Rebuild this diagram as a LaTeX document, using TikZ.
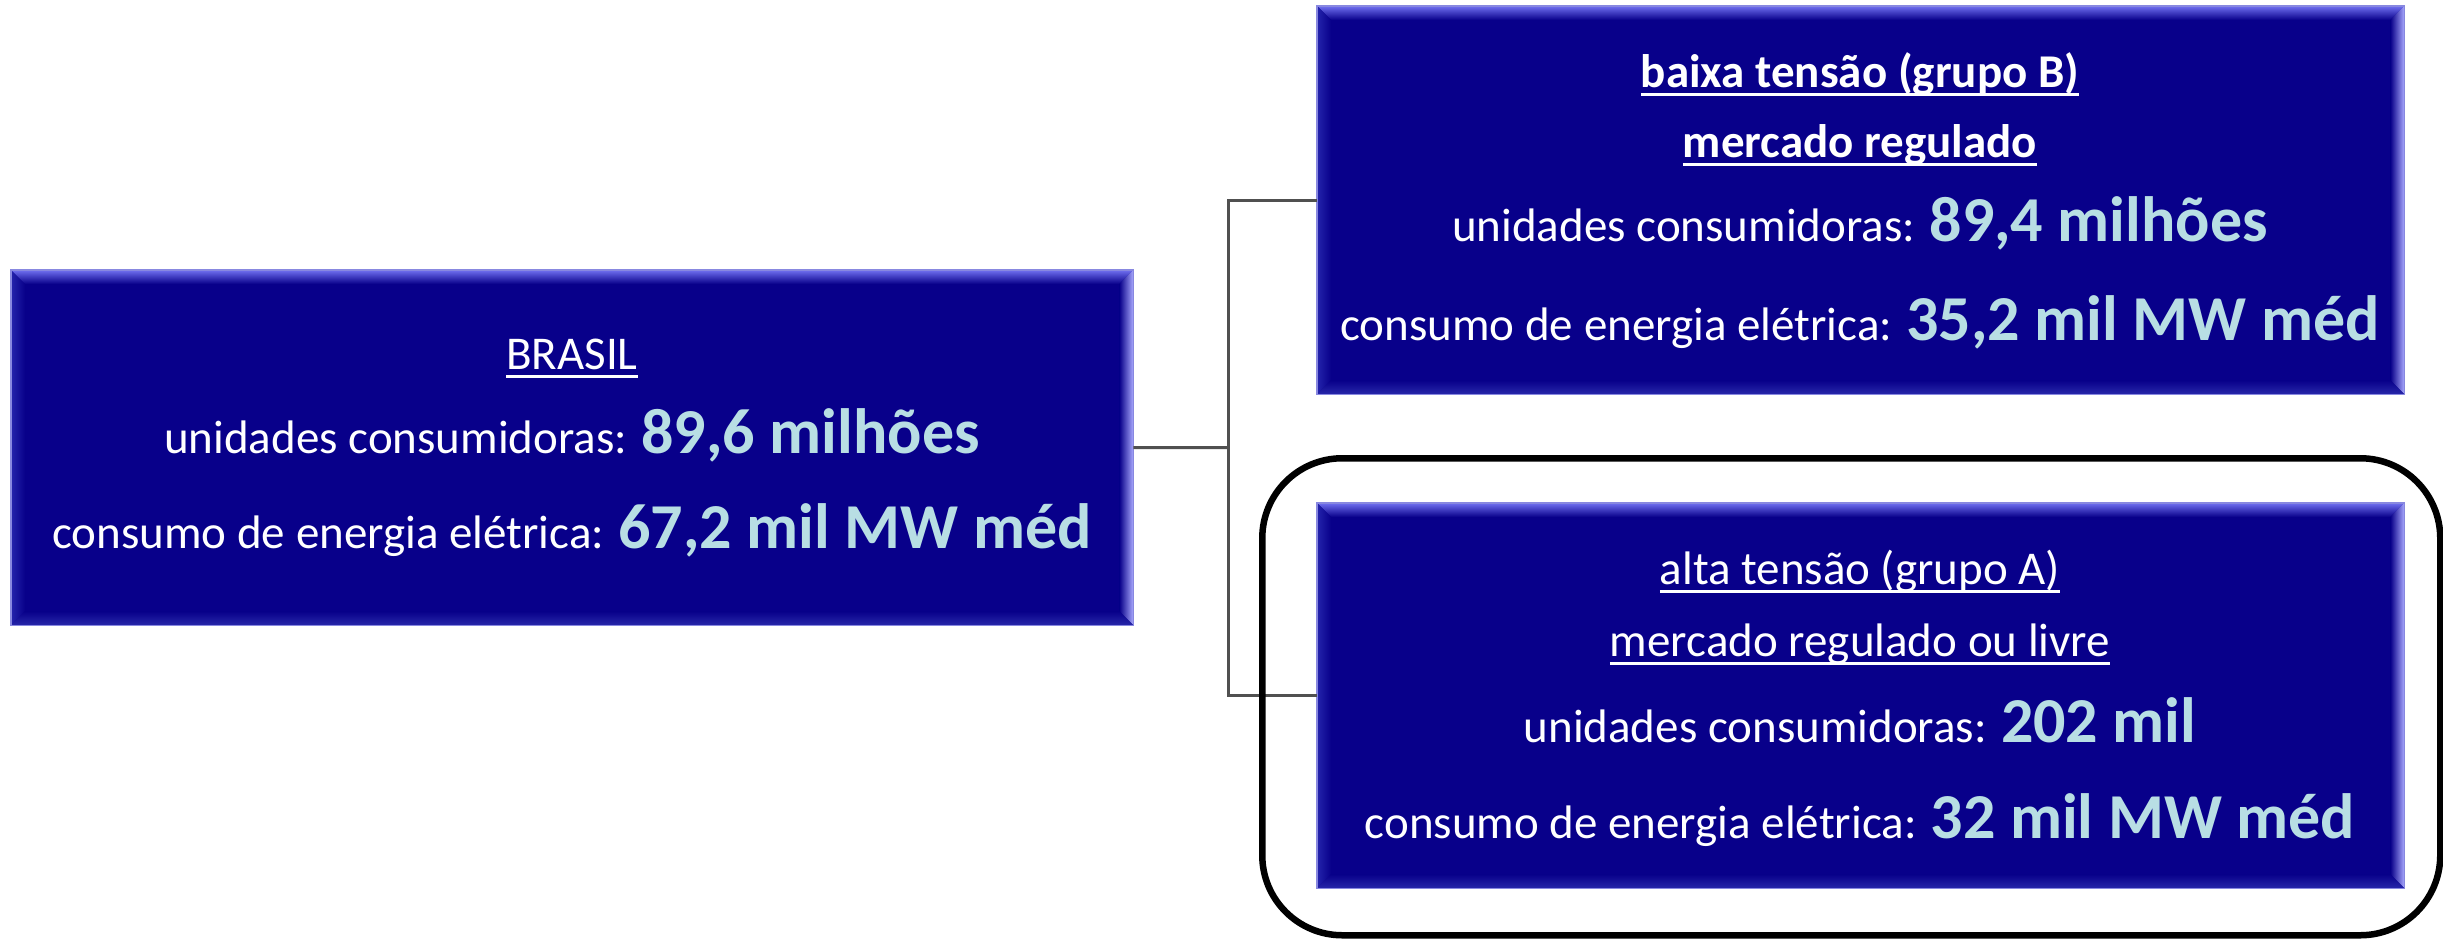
\documentclass[tikz,border=0pt]{standalone}
\usepackage{fontspec}
\setmainfont{Carlito}
\usetikzlibrary{calc}
\definecolor{boxfill}{RGB}{8,0,138}
\definecolor{numcol}{RGB}{184,222,228}
\definecolor{bevtop}{RGB}{112,112,240}
\definecolor{bevright}{RGB}{170,170,255}
\definecolor{bevleft}{RGB}{36,36,172}
\definecolor{bevbot}{RGB}{40,40,170}
\definecolor{edgecol}{RGB}{136,136,224}
\definecolor{linkcol}{RGB}{80,80,80}
\newcommand\bignum[1]{{\fontsize{64}{70}\selectfont\bfseries\color{numcol}#1}}
\newcommand\undl[1]{\setbox0\hbox{#1}\rlap{\rule[-9pt]{\wd0}{3pt}}\box0}
\def\bw{14}
\newcommand\bevelbox[1]{%
 \shade[top color=bevtop, bottom color=boxfill] (#1.north west) -- (#1.north east) -- ($(#1.north east)+(-\bw,\bw)$) -- ($(#1.north west)+(\bw,\bw)$) -- cycle;
 \shade[left color=boxfill, right color=bevright] (#1.north east) -- (#1.south east) -- ($(#1.south east)+(-\bw,-\bw)$) -- ($(#1.north east)+(-\bw,\bw)$) -- cycle;
 \shade[left color=bevleft, right color=boxfill] (#1.north west) -- (#1.south west) -- ($(#1.south west)+(\bw,-\bw)$) -- ($(#1.north west)+(\bw,\bw)$) -- cycle;
 \shade[top color=boxfill, bottom color=bevbot] (#1.south west) -- (#1.south east) -- ($(#1.south east)+(-\bw,-\bw)$) -- ($(#1.south west)+(\bw,-\bw)$) -- cycle;
 \draw[edgecol, line width=1.5pt] (#1.north west) rectangle (#1.south east);
}
\begin{document}
\begin{tikzpicture}[x=1pt,y=-1pt,
  box/.style={rectangle, fill=boxfill, anchor=north west, inner sep=0},
  txt/.style={text=white, font=\fontsize{47}{56}\selectfont, anchor=base, inner sep=0},
  link/.style={draw=linkcol, line width=3pt},
  group/.style={draw=black, line width=6.5pt, rounded corners=80pt, rectangle, anchor=north west, inner sep=0}]

\fill[white] (0,0) rectangle (2443,938);
\useasboundingbox (0,0) rectangle (2443,938);

\node[box, minimum width=1122pt, minimum height=355pt] (brasil) at (11,270) {};
\node[box, minimum width=1087pt, minimum height=388pt] (baixa) at (1317,6) {};
\node[box, minimum width=1087pt, minimum height=385pt] (alta) at (1317,503) {};
\bevelbox{brasil}
\bevelbox{baixa}
\bevelbox{alta}

\coordinate (split) at (1228,447.5);
\draw[link] (brasil.east) -- (split);
\draw[link] (split) |- (baixa.west);
\draw[link] (split) |- (alta.west);

\node[group, minimum width=1178pt, minimum height=477pt] (grp) at (1259,455) {};

\node[txt] (t1) at (572,369) {\undl{BRASIL}};
\node[txt] (t2) at (572,453) {unidades consumidoras: \bignum{89,6 milhões}};
\node[txt] (t3) at (572,548) {consumo de energia elétrica: \bignum{67,2 mil MW méd}};

\node[txt] (u1) at (1860,87) {\bfseries\undl{baixa tensão (grupo B)}};
\node[txt] (u2) at (1860,157) {\bfseries\undl{mercado regulado}};
\node[txt] (u3) at (1860,241) {unidades consumidoras: \bignum{89,4 milhões}};
\node[txt] (u4) at (1860,340) {consumo de energia elétrica: \bignum{35,2 mil MW méd}};

\node[txt] (v1) at (1860,584) {\undl{alta tensão (grupo A)}};
\node[txt] (v2) at (1860,656) {\undl{mercado regulado ou livre}};
\node[txt] (v3) at (1860,742) {unidades consumidoras: \bignum{202 mil}};
\node[txt] (v4) at (1860,838) {consumo de energia elétrica: \bignum{32 mil MW méd}};
\end{tikzpicture}
\end{document}
